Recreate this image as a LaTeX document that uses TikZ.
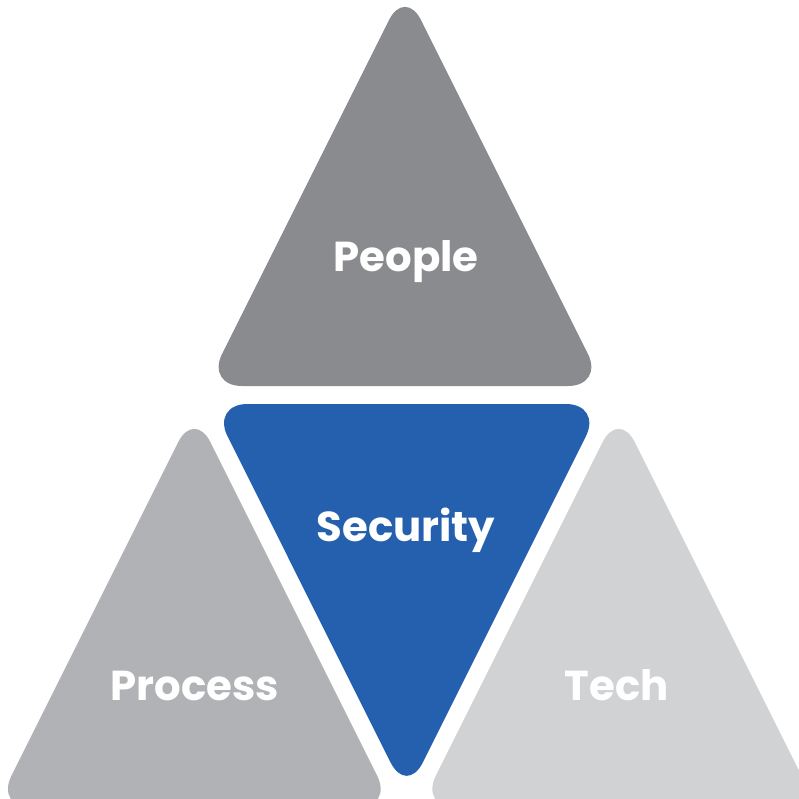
\documentclass[tikz,border=0pt]{standalone}
\usepackage{fontspec}
\setmainfont{Poppins}
\definecolor{peoplegray}{RGB}{138,139,143}
\definecolor{secblue}{RGB}{36,96,173}
\definecolor{procgray}{RGB}{177,178,181}
\definecolor{techgray}{RGB}{209,210,212}
\begin{document}
\begin{tikzpicture}[x=0.01cm,y=-0.01cm,
  tri/.style={rounded corners=0.36cm},
  lbl/.style={text=white, inner sep=0pt, anchor=base, font=\fontsize{11.9}{14}\selectfont\bfseries}]
\useasboundingbox (0,0) rectangle (799,799);
\fill[white] (0,0) rectangle (799,799);
\begin{scope}
\clip (0,0) rectangle (799,799);
\fill[peoplegray, tri] (405,-12) -- (604,386) -- (206,386) -- cycle;
\fill[secblue, tri] (211.4,404) -- (602,404) -- (406.7,794.7) -- cycle;
\fill[procgray, tri] (194.3,410) -- (393.3,808) -- (-4.7,808) -- cycle;
\fill[techgray, tri] (618.7,410) -- (817.7,808) -- (419.7,808) -- cycle;
\end{scope}
\node[lbl] (people) at (406,271) {People};
\node[lbl] (security) at (406,541) {Security};
\node[lbl] (process) at (195,700) {Process};
\node[lbl] (tech) at (617,700) {Tech};
\end{tikzpicture}
\end{document}
